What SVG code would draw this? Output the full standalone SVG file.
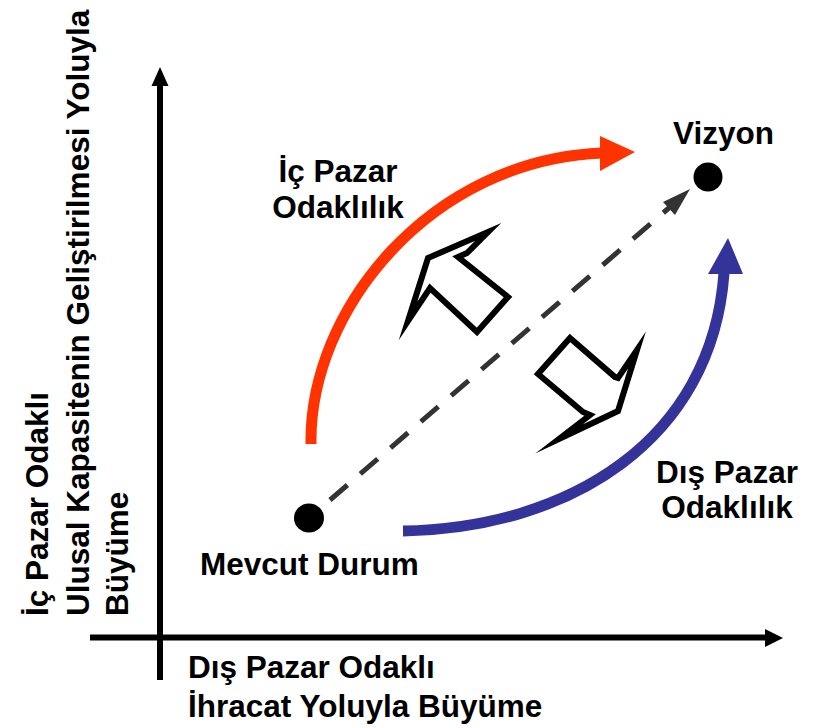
<svg xmlns="http://www.w3.org/2000/svg" width="823" height="728" viewBox="0 0 823 728">
<style>
text{font-family:"Liberation Sans",Arial,sans-serif;font-weight:bold;font-size:31.5px;fill:#000}
.ax{stroke:#000;stroke-width:6;fill:none}
.blk{fill:#fff;stroke:#000;stroke-width:6;stroke-linejoin:miter;stroke-miterlimit:10}
</style>
<rect width="823" height="728" fill="#fff"/>
<g id="axes">
<line class="ax" x1="160" y1="680" x2="160" y2="84"/>
<polygon points="160,67 151.5,86 168.5,86" fill="#000"/>
<line class="ax" x1="90" y1="637.5" x2="767" y2="637.5"/>
<polygon points="783,638 765,629 765,647" fill="#000"/>
</g>
<g id="connectors">
<path d="M311 444 C309 310 430 160 602 153" fill="none" stroke="#FF3300" stroke-width="11"/>
<polygon points="600,136 635,152 600,171" fill="#FF3300"/>
<path d="M403 531 C570 528 712 440 724 273" fill="none" stroke="#333399" stroke-width="11"/>
<polygon points="708,274 728,238 743,274" fill="#333399"/>
<line x1="330" y1="500" x2="670" y2="207" stroke="#333" stroke-width="5" stroke-dasharray="23 17"/>
<polygon points="690,189 663,202 675,215" fill="#333"/>
</g>
<g id="block-arrows">
<polygon class="blk" points="428,258 488,232 467,253 458,257 508,297 477,332 430,288 408,321"/>
<polygon class="blk" points="570,338 615,377 618,378 637,350 618,411 559,439 590,415 583,412 538,374"/>
</g>
<g id="mevcut">
<ellipse cx="309" cy="518" rx="15" ry="14.5" fill="#000"/>
<text x="200" y="575">Mevcut Durum</text>
</g>
<g id="vizyon">
<circle cx="708" cy="177" r="14.5" fill="#000"/>
<text x="673" y="144">Vizyon</text>
</g>
<g id="ic-pazar">
<text x="338" y="182" text-anchor="middle">İç Pazar</text>
<text x="338" y="218" text-anchor="middle">Odaklılık</text>
</g>
<g id="dis-pazar">
<text x="727" y="483" text-anchor="middle">Dış Pazar</text>
<text x="727" y="518" text-anchor="middle">Odaklılık</text>
</g>
<g id="x-label">
<text x="188" y="678">Dış Pazar Odaklı</text>
<text x="188" y="717">İhracat Yoluyla Büyüme</text>
</g>
<g id="y-label">
<text transform="translate(48,616) rotate(-90)">İç Pazar Odaklı</text>
<text transform="translate(89,616) rotate(-90)">Ulusal Kapasitenin Geliştirilmesi Yoluyla</text>
<text transform="translate(128,616) rotate(-90)">Büyüme</text>
</g>
</svg>
